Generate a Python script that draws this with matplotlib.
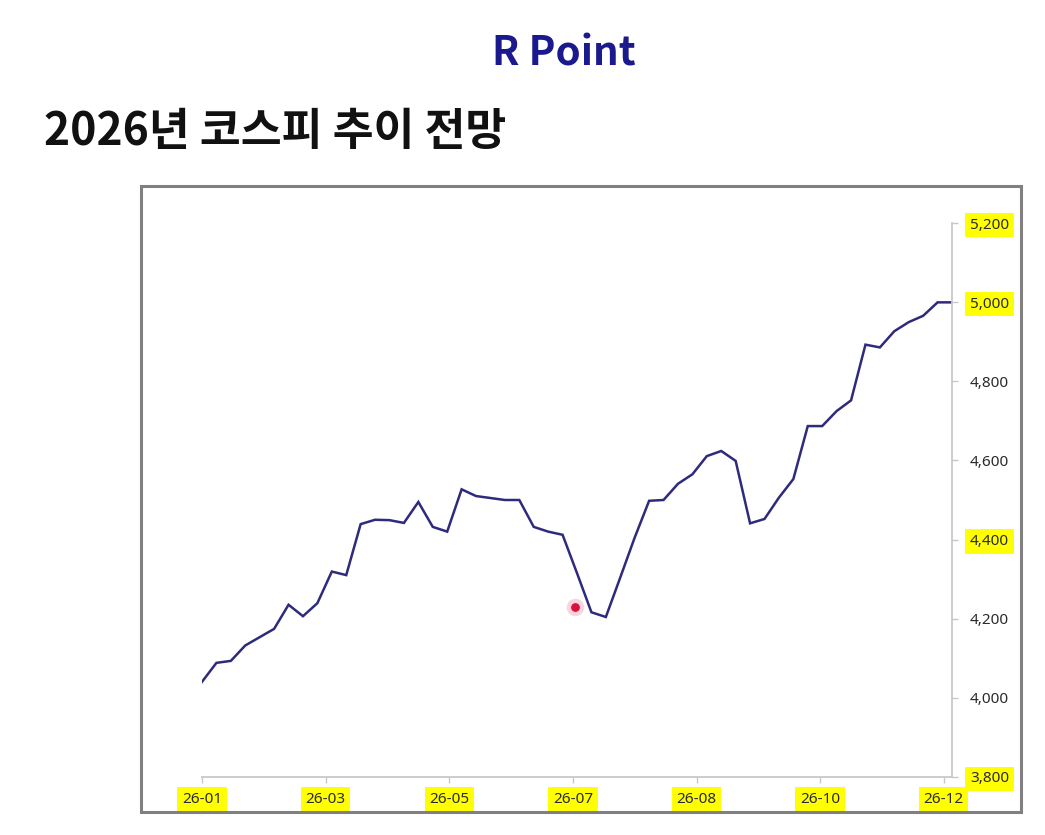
import pandas as pd
import matplotlib.pyplot as plt
from matplotlib.patches import Rectangle

plt.rcParams['font.family'] = ['Noto Sans CJK KR', 'DejaVu Sans']

# Weekly KOSPI projection for 2026
kospi = [4040, 4088, 4093, 4132, 4153, 4174, 4235, 4206, 4239, 4319,
         4310, 4439, 4450, 4449, 4442, 4495, 4432, 4420, 4527, 4510,
         4505, 4500, 4500, 4432, 4420, 4412, 4315, 4216, 4204, 4304,
         4405, 4498, 4500, 4541, 4565, 4611, 4624, 4599, 4441, 4452,
         4506, 4553, 4687, 4687, 4725, 4752, 4893, 4886, 4927, 4950,
         4966, 5000, 5000]
dates = pd.date_range("2026-01-02", periods=len(kospi), freq="7D")

x_labels = ["26-01", "26-03", "26-05", "26-07", "26-08", "26-10", "26-12"]
x_ticks = pd.date_range("2026-01-02", periods=len(x_labels), freq="60D")
y_ticks = [3800, 4000, 4200, 4400, 4600, 4800, 5000, 5200]
y_marked = [3800, 4400, 5000, 5200]

# red pointer dot
dot_date = pd.Timestamp("2026-07-02")
dot_value = 4230

fig = plt.figure(figsize=(10.45, 8.35), dpi=100)

# chart frame
fig.patches.append(Rectangle((141 / 1045, 1 - 812 / 835), 880 / 1045, 626 / 835,
                             transform=fig.transFigure, fill=False,
                             edgecolor="#808080", linewidth=2.2, zorder=0))

fig.text(564 / 1045, 1 - 54 / 835, "R Point", ha="center", va="center",
         fontsize=29, fontweight="bold", color="#1a1a8e")
fig.text(44 / 1045, 1 - 132 / 835, "2026년 코스피 추이 전망", ha="left", va="center",
         fontsize=32, fontweight="bold", color="#111111")

ax = fig.add_axes([202 / 1045, 1 - 776.7 / 835, 750 / 1045, 553.4 / 835])
ax.plot(dates, kospi, color="#2e2b7c", linewidth=1.8, solid_joinstyle="miter")
ax.scatter([dot_date], [dot_value], s=160, color="#f7b8c8", alpha=0.6, zorder=3, linewidths=0)
ax.scatter([dot_date], [dot_value], s=40, color="#d4143e", zorder=4, linewidths=0)

ax.set_xlim(dates[0], dates[-1])
ax.set_ylim(3800, 5200)

ax.yaxis.tick_right()
ax.set_yticks(y_ticks)
ax.set_yticklabels([f"{v:,}" for v in y_ticks])
ax.set_xticks(x_ticks)
ax.set_xticklabels(x_labels)

for s in ["left", "top"]:
    ax.spines[s].set_visible(False)
for s in ["right", "bottom"]:
    ax.spines[s].set_color("#c8c8c8")
    ax.spines[s].set_linewidth(1.3)

ax.tick_params(axis="both", colors="#c8c8c8", labelcolor="#2a2a2a",
               labelsize=11, length=4, width=1)
ax.tick_params(axis="y", pad=9)
ax.tick_params(axis="x", pad=7)
for lab in ax.get_xticklabels():
    lab.set_fontfamily(["Noto Sans", "DejaVu Sans"])
    lab.set_bbox(dict(facecolor="#ffff00", edgecolor="none", boxstyle="square,pad=0.3"))
for lab, v in zip(ax.get_yticklabels(), y_ticks):
    lab.set_fontfamily(["Noto Sans", "DejaVu Sans"])
    if v in y_marked:
        lab.set_bbox(dict(facecolor="#ffff00", edgecolor="none", boxstyle="square,pad=0.3"))

fig.savefig("out.png", dpi=100)
